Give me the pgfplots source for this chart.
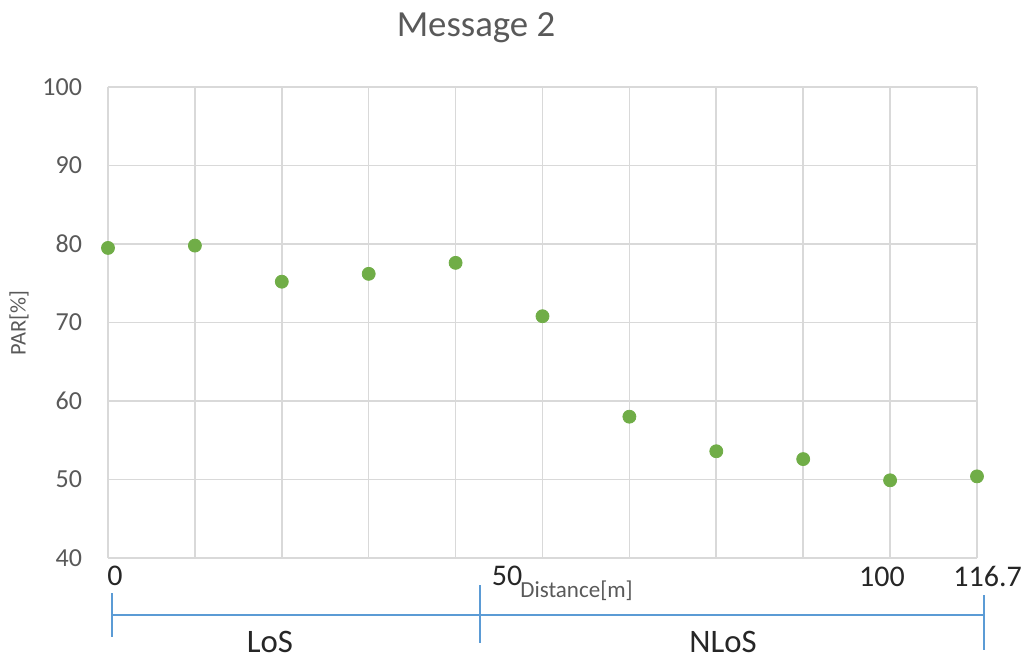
\documentclass[border=0pt]{standalone}
\usepackage{pgfplots}
\pgfplotsset{compat=1.18}
\usepackage{fontspec}
\setmainfont{Carlito}

\definecolor{txtgray}{HTML}{595959}
\definecolor{txtdark}{HTML}{262626}
\definecolor{gridgray}{HTML}{D9D9D9}
\definecolor{ptgreen}{HTML}{70AD47}
\definecolor{zoneblue}{HTML}{5B9BD5}

\begin{document}
\begin{tikzpicture}
\begin{axis}[
  at={(0,0)}, anchor=south west,
  scale only axis,
  width=434.5pt, height=235.5pt,
  xmin=0, xmax=10, ymin=40, ymax=100,
  xtick={0,...,10}, xticklabels={},
  ytick={40,50,...,100},
  major tick length=0pt,
  xmajorgrids, ymajorgrids,
  grid style={gridgray, line width=0.8pt},
  axis line style={draw=none},
  /pgf/number format/assume math mode=true,
  yticklabel style={font=\fontsize{13}{15}\selectfont, text=txtgray, xshift=-9.5pt},
  clip=false,
]
\addplot[only marks, mark=*, mark size=3.25pt,
  mark options={fill=ptgreen, draw=ptgreen}]
  coordinates {
    (0,79.5) (1,79.8) (2,75.2) (3,76.2) (4,77.6) (5,70.8)
    (6,58.0) (7,53.6) (8,52.6) (9,49.9) (10,50.4)
  };
\end{axis}
\path[use as bounding box] (-54pt,-51.5pt) rectangle (461pt,279pt);
% annotation layer in pixel-like units, origin at top left
\begin{scope}[x=0.5pt, y=-0.5pt, shift={(-54pt,279pt)}]
  \node[anchor=base, text=txtgray, font=\fontsize{18.4}{22}\selectfont, inner sep=0pt]
    at (476,36) {Message 2};
  \node[rotate=90, text=txtgray, font=\fontsize{11.2}{13}\selectfont, inner sep=0pt]
    at (19,323) {PAR[\%]};
  \begin{scope}[font=\fontsize{15}{18}\selectfont, text=txtdark, inner sep=0pt]
    \node[anchor=base] at (115,585) {0};
    \node[anchor=base] at (507,585) {50};
    \node[anchor=base] at (882,586) {100};
    \node[anchor=base west] at (953,586) {116.7};
  \end{scope}
  \node[anchor=base west, text=txtgray, font=\fontsize{11.5}{14}\selectfont, inner sep=0pt]
    at (520,597) {Distance[m]};
  \draw[zoneblue, line width=1pt] (112,615) -- (984,615);
  \draw[zoneblue, line width=1pt] (112,593) -- (112,637);
  \draw[zoneblue, line width=1pt] (480,585) -- (480,643);
  \draw[zoneblue, line width=1pt] (984,595) -- (984,650);
  \begin{scope}[font=\fontsize{16.4}{19}\selectfont, text=txtdark, inner sep=0pt]
    \node[anchor=base] at (270,652) {LoS};
    \node[anchor=base] at (723,652) {NLoS};
  \end{scope}
\end{scope}
\end{tikzpicture}
\end{document}
